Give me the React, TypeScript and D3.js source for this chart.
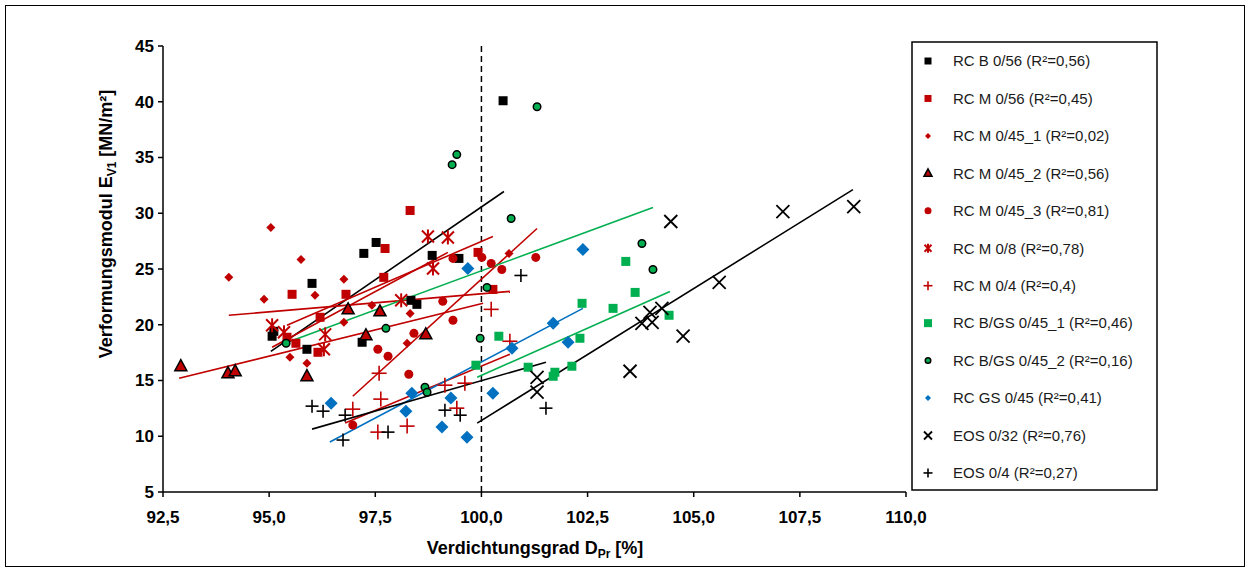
import React from "react";
import * as d3 from "d3";

type Pt = [number, number];

const rcB056: Pt[] = [[95.07,18.97],[95.11,19.41],[95.89,17.8],[96.01,23.71],[97.23,26.4],[97.52,27.38],[97.19,18.43],[98.34,22.19],[98.48,21.83],[98.84,26.22],[99.47,25.95],[100.51,40.09]];
const rcM056: Pt[] = [[98.32,30.25],[97.73,26.84],[97.7,24.25],[95.54,22.73],[96.81,22.73],[96.2,20.67],[95.42,18.88],[95.63,18.34],[96.15,17.53],[99.92,26.49],[100.27,23.17]];
const rcM045_1: Pt[] = [[95.04,28.72],[94.05,24.25],[95.75,25.86],[94.88,22.28],[96.08,22.64],[96.76,24.07],[96.76,20.22],[97.42,21.74],[98.32,21.02],[98.25,18.34],[95.49,17.09],[95.89,16.55],[100.65,26.4]];
const rcM045_2: Pt[] = [[92.92,16.28],[94.03,15.65],[94.2,15.83],[95.89,15.38],[96.86,21.38],[97.61,21.2],[97.28,19.05],[98.69,19.14]];
const rcM045_3: Pt[] = [[96.97,11.0],[97.56,17.8],[97.8,17.17],[98.29,15.56],[98.41,19.23],[99.09,22.1],[99.33,20.4],[99.33,25.95],[100.01,26.04],[100.23,25.5],[100.48,24.96],[101.28,26.04]];
const rcM08: Pt[] = [[95.07,19.95],[95.35,19.32],[96.32,19.14],[96.29,17.8],[98.11,22.19],[98.86,25.05],[98.74,27.92],[99.21,27.83]];
const rcM04: Pt[] = [[96.97,12.43],[97.59,15.65],[97.63,13.33],[97.56,10.37],[98.25,10.91],[99.14,14.58],[99.61,14.76],[99.42,12.52],[100.23,21.38],[100.67,18.52]];
const rcBGS045_1: Pt[] = [[99.87,16.37],[100.41,18.97],[101.1,16.19],[101.69,15.38],[101.73,15.74],[102.13,16.28],[102.32,18.79],[102.37,21.92],[103.1,21.47],[103.4,25.68],[103.62,22.9],[104.42,20.85]];
const rcBGS045_2: Pt[] = [[95.4,18.34],[97.75,19.68],[98.67,14.4],[98.72,13.95],[99.31,34.36],[99.42,35.26],[99.97,18.79],[100.13,23.35],[100.7,29.53],[101.31,39.55],[103.78,27.29],[104.04,24.96]];
const rcGS045: Pt[] = [[99.68,25.05],[102.39,26.75],[101.69,20.13],[102.04,18.43],[100.72,17.89],[100.27,13.86],[99.66,9.92],[99.07,10.82],[99.28,13.42],[98.22,12.25],[98.36,13.86],[96.46,12.97]];
const eos032: Pt[] = [[101.31,15.29],[101.31,13.95],[103.5,15.83],[103.78,20.13],[104.02,20.22],[103.97,21.11],[104.25,21.47],[104.46,29.26],[104.75,18.97],[105.6,23.8],[107.1,30.15],[108.77,30.6]];
const eos04: Pt[] = [[96.01,12.7],[96.27,12.25],[96.79,11.89],[96.74,9.66],[97.8,10.37],[99.14,12.34],[99.5,11.89],[100.93,24.42],[101.52,12.52]];

// trend lines: [x0, y0, x1, y1]
const trendRcB056 = [95.04, 17.62, 100.53, 31.95];
const trendRcM056 = [95.42, 19.95, 100.27, 27.92];
const trendRcM045_1 = [94.05, 20.85, 100.67, 22.99];
const trendRcM045_2 = [92.88, 15.2, 100.04, 21.92];
const trendRcM045_3 = [96.97, 13.59, 101.31, 28.63];
const trendRcM08 = [95.07, 17.98, 99.21, 26.49];
const trendRcM04 = [96.79, 11.18, 100.67, 17.35];
const trendRcBGS045_1 = [99.9, 15.29, 104.44, 22.99];
const trendRcBGS045_2 = [95.37, 18.34, 104.04, 30.51];
const trendRcGS045 = [96.43, 9.48, 102.39, 21.47];
const trendEos032 = [99.9, 11.18, 108.75, 32.12];
const trendEos04 = [96.01, 10.64, 101.52, 16.64];

const seriesNames = [
  "RC B 0/56 (R²=0,56)",
  "RC M 0/56 (R²=0,45)",
  "RC M 0/45_1 (R²=0,02)",
  "RC M 0/45_2 (R²=0,56)",
  "RC M 0/45_3 (R²=0,81)",
  "RC M 0/8 (R²=0,78)",
  "RC M 0/4 (R²=0,4)",
  "RC B/GS 0/45_1 (R²=0,46)",
  "RC B/GS 0/45_2 (R²=0,16)",
  "RC GS 0/45 (R²=0,41)",
  "EOS 0/32 (R²=0,76)",
  "EOS 0/4 (R²=0,27)",
];

const xTicks = [92.5, 95, 97.5, 100, 102.5, 105, 107.5, 110];
const yTicks = [5, 10, 15, 20, 25, 30, 35, 40, 45];

const RED = "#C00000";
const GREEN = "#00B050";
const BLUE = "#0070C0";
const BLACK = "#000000";

type Shape = "square" | "diamond" | "triangle" | "circle" | "asterisk" | "plus" | "x";
interface Series { name: string; data: Pt[]; trend: number[]; shape: Shape; color: string; size: number; legendSize: number; outline?: boolean; lineColor: string }

const series: Series[] = [
  { name: seriesNames[0], data: rcB056, trend: trendRcB056, shape: "square", color: BLACK, size: 9, legendSize: 7, lineColor: BLACK },
  { name: seriesNames[1], data: rcM056, trend: trendRcM056, shape: "square", color: RED, size: 9, legendSize: 7, lineColor: RED },
  { name: seriesNames[2], data: rcM045_1, trend: trendRcM045_1, shape: "diamond", color: RED, size: 9, legendSize: 6, lineColor: RED },
  { name: seriesNames[3], data: rcM045_2, trend: trendRcM045_2, shape: "triangle", color: RED, size: 12, legendSize: 8, outline: true, lineColor: RED },
  { name: seriesNames[4], data: rcM045_3, trend: trendRcM045_3, shape: "circle", color: RED, size: 9, legendSize: 7, lineColor: RED },
  { name: seriesNames[5], data: rcM08, trend: trendRcM08, shape: "asterisk", color: RED, size: 12, legendSize: 7, lineColor: RED },
  { name: seriesNames[6], data: rcM04, trend: trendRcM04, shape: "plus", color: RED, size: 15, legendSize: 9, lineColor: RED },
  { name: seriesNames[7], data: rcBGS045_1, trend: trendRcBGS045_1, shape: "square", color: GREEN, size: 9, legendSize: 8, lineColor: GREEN },
  { name: seriesNames[8], data: rcBGS045_2, trend: trendRcBGS045_2, shape: "circle", color: GREEN, size: 9, legendSize: 7, outline: true, lineColor: GREEN },
  { name: seriesNames[9], data: rcGS045, trend: trendRcGS045, shape: "diamond", color: BLUE, size: 13, legendSize: 6, lineColor: BLUE },
  { name: seriesNames[10], data: eos032, trend: trendEos032, shape: "x", color: BLACK, size: 13, legendSize: 8, lineColor: BLACK },
  { name: seriesNames[11], data: eos04, trend: trendEos04, shape: "plus", color: BLACK, size: 13, legendSize: 9, lineColor: BLACK },
];

function Marker({ shape, cx, cy, size, color, outline }: { shape: Shape; cx: number; cy: number; size: number; color: string; outline?: boolean }) {
  const h = size / 2;
  switch (shape) {
    case "square":
      return <rect x={cx - h} y={cy - h} width={size} height={size} fill={color} />;
    case "diamond":
      return <path d={`M${cx},${cy - h}L${cx + h},${cy}L${cx},${cy + h}L${cx - h},${cy}Z`} fill={color} />;
    case "triangle": {
      const tr = h * 1.1;
      return <path d={`M${cx},${cy - tr}L${cx + h},${cy + h * 0.75}L${cx - h},${cy + h * 0.75}Z`} fill={color} stroke={outline ? "#000" : "none"} strokeWidth={1.5} strokeLinejoin="miter" />;
    }
    case "circle":
      return <circle cx={cx} cy={cy} r={outline ? h - 0.75 : h} fill={color} stroke={outline ? "#000" : "none"} strokeWidth={1.5} />;
    case "asterisk":
      return (
        <g stroke={color} strokeWidth={2}>
          <line x1={cx - h} y1={cy - h} x2={cx + h} y2={cy + h} />
          <line x1={cx - h} y1={cy + h} x2={cx + h} y2={cy - h} />
          <line x1={cx} y1={cy - h - 1} x2={cx} y2={cy + h + 1} />
        </g>
      );
    case "plus":
      return (
        <g stroke={color} strokeWidth={1.6}>
          <line x1={cx - h} y1={cy} x2={cx + h} y2={cy} />
          <line x1={cx} y1={cy - h} x2={cx} y2={cy + h} />
        </g>
      );
    case "x":
      return (
        <g stroke={color} strokeWidth={1.8}>
          <line x1={cx - h} y1={cy - h} x2={cx + h} y2={cy + h} />
          <line x1={cx - h} y1={cy + h} x2={cx + h} y2={cy - h} />
        </g>
      );
  }
  return null;
}

export default function App() {
  const W = 1250, H = 572;
  const x = d3.scaleLinear().domain([92.5, 110]).range([163, 906]);
  const y = d3.scaleLinear().domain([5, 45]).range([492, 46]);
  const fmt = (v: number) => v.toFixed(1).replace(".", ",");
  const axisFont = "'Liberation Sans Narrow', 'Arial Narrow', 'Liberation Sans', Arial, sans-serif";
  const legendFont = "'Liberation Sans', Arial, sans-serif";
  const legX = 912, legY = 42, legW = 245, legH = 448;
  const legStep = 37.45;

  return (
    <svg width={W} height={H} style={{ position: "absolute", left: 0, top: 0, background: "#fff" }}>
      <rect x={0} y={0} width={W} height={H} fill="#fff" />
      <rect x={5.5} y={5.5} width={1239} height={561} fill="none" stroke="#000" strokeWidth={1} />

      {/* axes */}
      <line x1={x(92.5)} y1={y(45)} x2={x(92.5)} y2={y(5)} stroke="#000" strokeWidth={1.5} />
      <line x1={x(92.5)} y1={y(5)} x2={x(110)} y2={y(5)} stroke="#000" strokeWidth={1.5} />
      {yTicks.map((t) => (
        <g key={"y" + t}>
          <line x1={x(92.5) - 5} x2={x(92.5)} y1={y(t)} y2={y(t)} stroke="#000" strokeWidth={1.5} />
          <text x={x(92.5) - 9} y={y(t)} dy="0.35em" textAnchor="end" fontFamily={axisFont} fontWeight="bold" fontSize={17}>{t}</text>
        </g>
      ))}
      {xTicks.map((t) => (
        <g key={"x" + t}>
          <line x1={x(t)} x2={x(t)} y1={y(5)} y2={y(5) + 5} stroke="#000" strokeWidth={1.5} />
          <text x={x(t)} y={y(5) + 25} dy="0.35em" textAnchor="middle" fontFamily={axisFont} fontWeight="bold" fontSize={17}>{fmt(t)}</text>
        </g>
      ))}

      {/* dashed 100 % line */}
      <line x1={x(100)} x2={x(100)} y1={y(45)} y2={y(5)} stroke="#000" strokeWidth={1.5} strokeDasharray="6,4" />

      {/* trend lines */}
      {series.map((s, i) => (
        <line key={"t" + i} x1={x(s.trend[0])} y1={y(s.trend[1])} x2={x(s.trend[2])} y2={y(s.trend[3])} stroke={s.lineColor} strokeWidth={1.6} />
      ))}

      {/* markers */}
      {series.map((s, i) => (
        <g key={"m" + i}>
          {s.data.map((d, j) => (
            <Marker key={j} shape={s.shape} cx={x(d[0])} cy={y(d[1])} size={s.size} color={s.color} outline={s.outline} />
          ))}
        </g>
      ))}

      {/* axis titles */}
      <text transform={`translate(112, 224) rotate(-90)`} textAnchor="middle" fontFamily={axisFont} fontWeight="bold" fontSize={18}>
        Verformungsmodul E<tspan fontSize={12} dy="4">V1</tspan><tspan dy="-4"> [MN/m²]</tspan>
      </text>
      <text x={535} y={554} textAnchor="middle" fontFamily={axisFont} fontWeight="bold" fontSize={18}>
        Verdichtungsgrad D<tspan fontSize={12} dy="4">Pr</tspan><tspan dy="-4"> [%]</tspan>
      </text>

      {/* legend */}
      <rect x={legX} y={legY} width={legW} height={legH} fill="#fff" stroke="#000" strokeWidth={1.5} />
      {series.map((s, i) => {
        const cy = 61 + i * legStep;
        return (
          <g key={"l" + i}>
            <Marker shape={s.shape} cx={928} cy={cy} size={s.legendSize} color={s.color} outline={s.outline} />
            <text x={953} y={cy} dy="0.35em" fontFamily={legendFont} fontSize={15} fill="#1a1a1a">{s.name}</text>
          </g>
        );
      })}
    </svg>
  );
}
